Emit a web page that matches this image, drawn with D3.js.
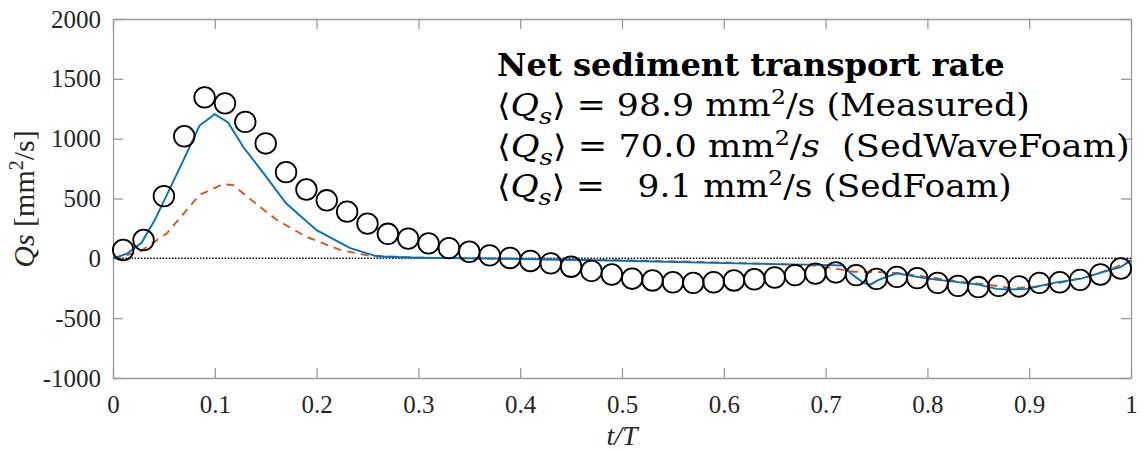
<!DOCTYPE html>
<html>
<head>
<meta charset="utf-8">
<script src="https://cdn.jsdelivr.net/npm/d3@7"></script>
<style>
  html, body { margin: 0; padding: 0; background: #fff; }
  svg { display: block; }
  .box path, .box line { stroke: #9a9a9a; stroke-width: 1.3; }
</style>
</head>
<body>
<div id="chart"></div>
<script>
// Measured (circles)
const measuredT = [0.01, 0.03, 0.05, 0.07, 0.09, 0.11, 0.13, 0.15, 0.17, 0.19,
  0.21, 0.23, 0.25, 0.27, 0.29, 0.31, 0.33, 0.35, 0.37, 0.39,
  0.41, 0.43, 0.45, 0.47, 0.49, 0.51, 0.53, 0.55, 0.57, 0.59,
  0.61, 0.63, 0.65, 0.67, 0.69, 0.71, 0.73, 0.75, 0.77, 0.79,
  0.81, 0.83, 0.85, 0.87, 0.89, 0.91, 0.93, 0.95, 0.97, 0.99];
const measuredQ = [70, 153, 520, 1020, 1345, 1295, 1140, 960, 720, 575,
  485, 390, 290, 205, 165, 125, 85, 55, 25, 3,
  -22, -42, -70, -105, -135, -170, -185, -200, -205, -200,
  -185, -175, -160, -140, -128, -118, -140, -172, -155, -165,
  -205, -230, -240, -230, -235, -205, -200, -180, -135, -85];

// SedWaveFoam (blue solid)
const waveT = [0, 0.014, 0.028, 0.041, 0.0675, 0.085, 0.1, 0.113, 0.128, 0.148,
  0.17, 0.2, 0.233, 0.26, 0.3, 0.35, 0.4, 0.5, 0.6, 0.695,
  0.717, 0.724, 0.737, 0.744, 0.752, 0.77, 0.8, 0.826, 0.85, 0.868,
  0.881, 0.898, 0.924, 0.951, 0.972, 0.989, 1.0];
const waveQ = [0, 40, 130, 320, 790, 1110, 1205, 1135, 930, 710,
  460, 235, 86, 15, 5, 0, -5, -20, -40, -55,
  -60, -120, -205, -220, -180, -125, -170, -195, -220, -255,
  -260, -255, -205, -170, -115, -75, -20];

// SedFoam (red dashed)
const foamT = [0, 0.0265, 0.053, 0.085, 0.108, 0.118, 0.138, 0.161, 0.19, 0.223,
  0.25, 0.3, 0.4, 0.5, 0.6, 0.69, 0.714, 0.727, 0.753, 0.773,
  0.8, 0.832, 0.859, 0.884, 0.904, 0.93, 0.957, 0.98, 1.0];
const foamQ = [0, 55, 210, 530, 620, 612, 473, 320, 180, 70,
  25, 5, -5, -15, -35, -60, -92, -112, -115, -125,
  -155, -195, -220, -250, -240, -205, -155, -90, -20];

const xTicks = [0, 0.1, 0.2, 0.3, 0.4, 0.5, 0.6, 0.7, 0.8, 0.9, 1];
const xTickLabels = ['0', '0.1', '0.2', '0.3', '0.4', '0.5', '0.6', '0.7', '0.8', '0.9', '1'];
const yTicks = [-1000, -500, 0, 500, 1000, 1500, 2000];
const yTickLabels = ['-1000', '-500', '0', '500', '1000', '1500', '2000'];

const W = 1143, H = 451;
const margin = { top: 19, right: 12, bottom: 73, left: 113 };
const width = W - margin.left - margin.right;
const height = H - margin.top - margin.bottom;

const svg = d3.select('#chart').append('svg')
  .attr('width', W)
  .attr('height', H);

const g = svg.append('g')
  .attr('transform', `translate(${margin.left},${margin.top})`);

const x = d3.scaleLinear().domain([0, 1]).range([0, width]);
const y = d3.scaleLinear().domain([-1000, 2000]).range([height, 0]);

// Axes box with inward ticks
g.append('g')
  .attr('class', 'box')
  .attr('transform', `translate(0,${height})`)
  .call(d3.axisBottom(x).tickValues(xTicks).tickFormat((d, i) => xTickLabels[i])
    .tickSizeInner(-10).tickSizeOuter(0).tickPadding(17));

g.append('g')
  .attr('class', 'box')
  .call(d3.axisTop(x).tickValues(xTicks).tickFormat('')
    .tickSizeInner(-10).tickSizeOuter(0));

g.append('g')
  .attr('class', 'box')
  .call(d3.axisLeft(y).tickValues(yTicks).tickFormat((d, i) => yTickLabels[i])
    .tickSizeInner(-10).tickSizeOuter(0).tickPadding(12));

g.append('g')
  .attr('class', 'box')
  .attr('transform', `translate(${width},0)`)
  .call(d3.axisRight(y).tickValues(yTicks).tickFormat('')
    .tickSizeInner(-10).tickSizeOuter(0));

g.selectAll('.tick text')
  .attr('fill', '#262626')
  .style('font-family', '"Liberation Serif", serif')
  .style('font-size', '25px');

// Zero reference line
g.append('line')
  .attr('x1', x(0)).attr('x2', x(1))
  .attr('y1', y(0)).attr('y2', y(0))
  .attr('stroke', '#000')
  .attr('stroke-width', 1.5)
  .attr('stroke-dasharray', '1.5,1.6');

const line = d3.line().x((d) => x(d[0])).y((d) => y(d[1]));

// SedFoam
g.append('path')
  .datum(foamT.map((t, i) => [t, foamQ[i]]))
  .attr('fill', 'none')
  .attr('stroke', '#D95319')
  .attr('stroke-width', 1.9)
  .attr('stroke-dasharray', '8,6')
  .attr('d', line);

// SedWaveFoam
g.append('path')
  .datum(waveT.map((t, i) => [t, waveQ[i]]))
  .attr('fill', 'none')
  .attr('stroke', '#0072BD')
  .attr('stroke-width', 1.9)
  .attr('d', line);

// Measured
g.selectAll('.meas')
  .data(measuredT.map((t, i) => [t, measuredQ[i]]))
  .enter()
  .append('circle')
  .attr('class', 'meas')
  .attr('cx', (d) => x(d[0]))
  .attr('cy', (d) => y(d[1]))
  .attr('r', 10.3)
  .attr('fill', 'none')
  .attr('stroke', '#000')
  .attr('stroke-width', 1.8);

// Axis labels
svg.append('text')
  .attr('x', margin.left + x(0.5))
  .attr('y', 445)
  .attr('text-anchor', 'middle')
  .style('font-family', '"Liberation Serif", serif')
  .style('font-size', '28px')
  .style('font-style', 'italic')
  .attr('fill', '#262626')
  .text('t/T');

const yl = svg.append('text')
  .attr('transform', 'translate(34,199) rotate(-90)')
  .attr('text-anchor', 'middle')
  .style('font-family', '"Liberation Serif", serif')
  .style('font-size', '30px')
  .attr('fill', '#262626');
yl.append('tspan').style('font-style', 'italic').text('Qs');
yl.append('tspan').text(' [mm');
yl.append('tspan').attr('dy', -11).style('font-size', '20px').text('2');
yl.append('tspan').attr('dy', 11).text('/s]');

// Annotation block
const noteFont = '"DejaVu Serif", serif';

function noteLine(yPos, targetWidth, build) {
  const t = svg.append('text')
    .attr('x', 0).attr('y', 0)
    .style('font-family', noteFont)
    .style('font-size', '31px')
    .style('white-space', 'pre')
    .attr('fill', '#000');
  build(t);
  const w = t.node().getComputedTextLength();
  t.attr('transform', `translate(497,${yPos}) scale(${targetWidth / w},1)`);
}

function qsHead(t, rest) {
  t.append('tspan').text('\u27E8');
  t.append('tspan').style('font-style', 'italic').text('Q');
  t.append('tspan').style('font-style', 'italic').style('font-size', '23px').attr('dy', 8).text('s');
  t.append('tspan').attr('dy', -8).text('\u27E9 = ' + rest + ' mm');
  t.append('tspan').style('font-size', '21px').attr('dy', -12).text('2');
  t.append('tspan').attr('dy', 12).text('/');
}

noteLine(76, 508, (t) => {
  t.style('font-weight', 'bold').text('Net sediment transport rate');
});

noteLine(116, 533, (t) => {
  qsHead(t, '98.9');
  t.append('tspan').text('s (Measured)');
});

noteLine(157, 633, (t) => {
  qsHead(t, '70.0');
  t.append('tspan').style('font-style', 'italic').text('s');
  t.append('tspan').text('  (SedWaveFoam)');
});

noteLine(197, 515, (t) => {
  qsHead(t, '  9.1');
  t.append('tspan').text('s (SedFoam)');
});
</script>
</body>
</html>
